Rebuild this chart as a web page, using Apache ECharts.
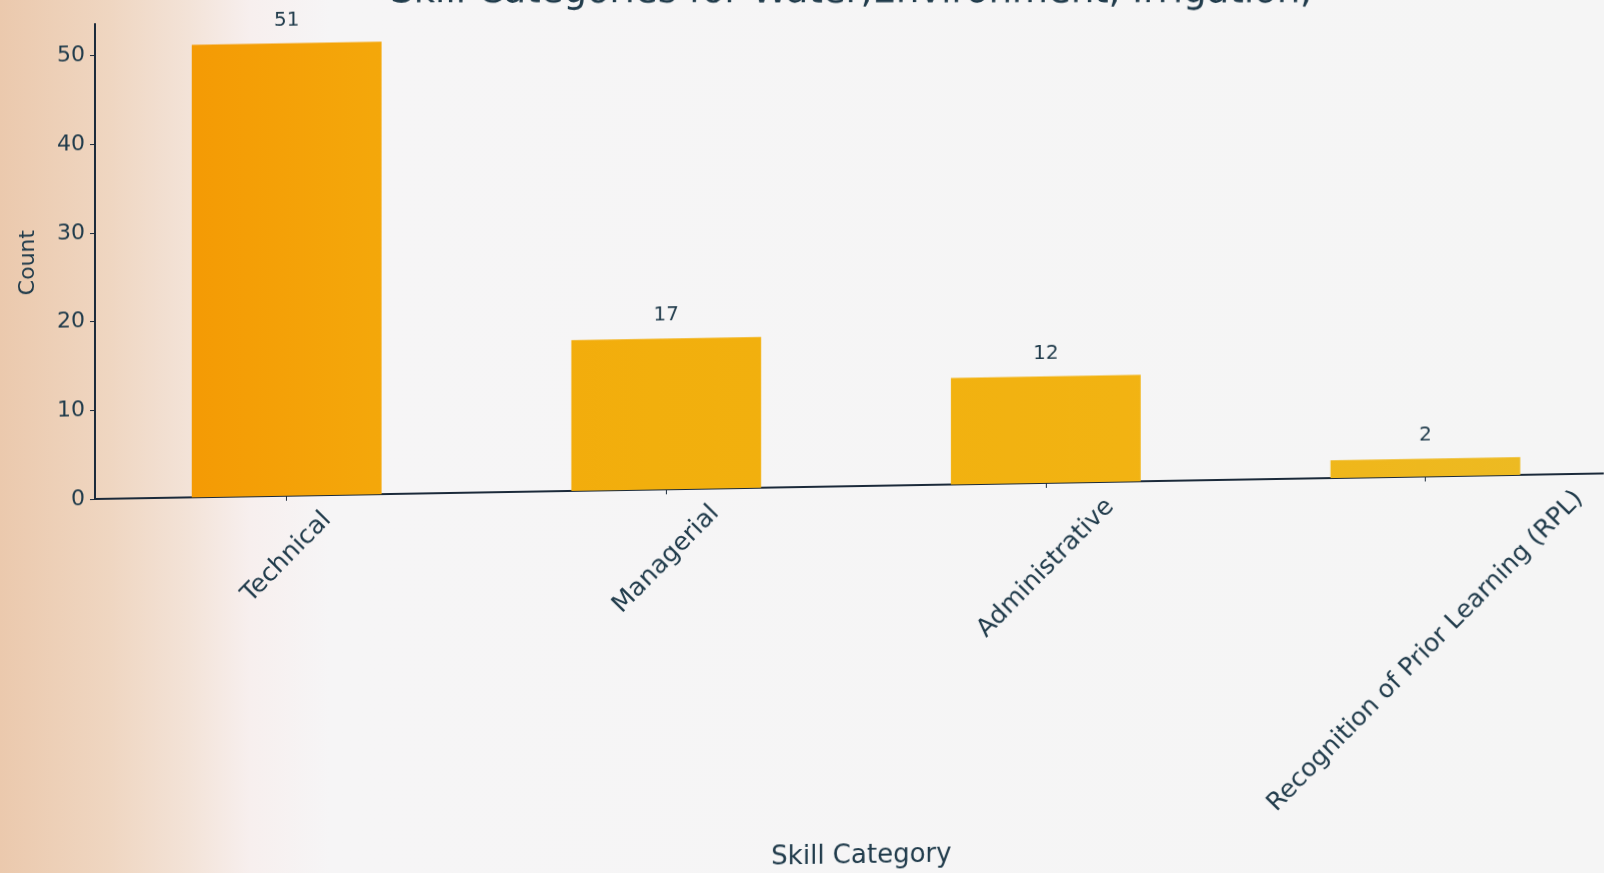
<!DOCTYPE html>
<html>
<head>
<meta charset="utf-8">
<title>Skill Categories</title>
<script src="https://cdn.jsdelivr.net/npm/echarts@6/dist/echarts.min.js"></script>
<style>
  html, body {
    margin: 0;
    padding: 0;
    width: 1604px;
    height: 873px;
    overflow: hidden;
    background: linear-gradient(90deg, #ebc9ad 0px, #efd6c1 110px, #f3e3d8 190px, #f7efee 250px, #f6f5f6 330px, #f5f5f5 100%);
  }
  #chart {
    position: absolute;
    left: 0;
    top: -40px;
    width: 1604px;
    height: 960px;
    transform-origin: 95px 539px;
    transform: skewY(-0.97deg);
  }
</style>
</head>
<body>
<div id="chart"></div>
<script>
// Skill category counts
const categories = ['Technical', 'Managerial', 'Administrative', 'Recognition of Prior Learning (RPL)'];
const counts = [51, 17, 12, 2];
const yTickValues = [0, 10, 20, 30, 40, 50];
const titleText = 'Skill Categories for Water,Environment, Irrigation,';

const TEXT = '#203b4b';
const AXIS = '#1b2a3a';
const FONT = 'DejaVu Sans';
const CAT_SIZE = 25;
const TITLE_SIZE = 37;
const TILT = Math.tan(0.97 * Math.PI / 180);

// bars sit at positions 0..n-1 on a numeric x scale
const barData = counts.map(function (v, i) { return [i, v]; });
const catPositions = categories.map(function (c, i) { return i; });

const chart = echarts.init(document.getElementById('chart'), null, { renderer: 'canvas' });

const barFill = new echarts.graphic.LinearGradient(185, 0, 1520, 0, [
  { offset: 0, color: '#f49a04' },
  { offset: 0.14, color: '#f4a70a' },
  { offset: 0.35, color: '#f2af0d' },
  { offset: 0.7, color: '#f2b312' },
  { offset: 1, color: '#edba22' }
], true);

chart.setOption({
  animation: false,
  backgroundColor: 'transparent',
  grid: { left: 95, right: 0, top: 64, bottom: 421 },
  xAxis: {
    type: 'value',
    min: -0.505,
    max: 3.47,
    splitLine: { show: false },
    axisLine: { show: true, onZero: false, lineStyle: { color: AXIS, width: 2 } },
    axisTick: { show: true, length: 5, lineStyle: { color: AXIS }, customValues: catPositions },
    axisLabel: { show: false },
    name: 'Skill Category',
    nameLocation: 'middle',
    nameGap: 357,
    nameTextStyle: { fontFamily: FONT, fontSize: 26, color: TEXT, padding: [0, 0, 0, 24] }
  },
  yAxis: {
    type: 'value',
    min: 0,
    max: 53.55,
    interval: 10,
    splitLine: { show: false },
    axisLine: { show: true, onZero: false, lineStyle: { color: AXIS, width: 2 } },
    axisTick: { show: true, length: 5, lineStyle: { color: AXIS }, customValues: yTickValues },
    axisLabel: {
      fontFamily: FONT, fontSize: 22, color: TEXT, margin: 10,
      customValues: yTickValues
    },
    name: 'Count',
    nameLocation: 'middle',
    nameGap: 56,
    nameTextStyle: { fontFamily: FONT, fontSize: 22, color: TEXT }
  },
  series: [{
    type: 'bar',
    data: barData,
    barWidth: '50%',
    itemStyle: { color: barFill },
    label: {
      show: true,
      position: 'top',
      distance: 13,
      fontFamily: FONT,
      fontSize: 20,
      color: TEXT,
      formatter: function (p) { return p.value[1]; }
    }
  }]
});

// Category labels: rotated 45°, centred under each tick, pushed down by their own extent
const measure = document.createElement('canvas').getContext('2d');
measure.font = CAT_SIZE + 'px "' + FONT + '"';
const graphics = categories.map(function (name, i) {
  const p = chart.convertToPixel({ gridIndex: 0 }, [catPositions[i], 0]);
  const w = measure.measureText(name).width;
  const drop = 12 + 0.354 * (w + CAT_SIZE);
  return {
    type: 'text',
    x: p[0],
    y: p[1] + drop,
    rotation: Math.PI / 4,
    silent: true,
    style: {
      text: name,
      x: 0,
      y: 0,
      font: CAT_SIZE + 'px "' + FONT + '"',
      fill: TEXT,
      textAlign: 'center',
      textVerticalAlign: 'middle',
      align: 'center',
      verticalAlign: 'middle'
    }
  };
});

// Title kept level across the page, centred over the plot
graphics.push({
  type: 'text',
  x: 851,
  y: 64,
  rotation: -TILT,
  silent: true,
  style: {
    text: titleText,
    x: 0,
    y: 0,
    font: TITLE_SIZE + 'px "' + FONT + '"',
    fill: TEXT,
    textAlign: 'center',
    textVerticalAlign: 'bottom',
    align: 'center',
    verticalAlign: 'bottom'
  }
});
chart.setOption({ graphic: graphics });
</script>
</body>
</html>
